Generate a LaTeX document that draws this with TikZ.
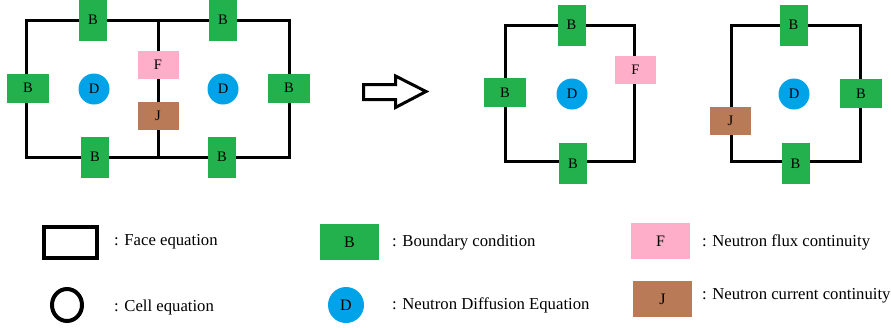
\documentclass[tikz,border=0pt]{standalone}
\usepackage{fontspec}
\usetikzlibrary{shapes.geometric}
\setmainfont{Liberation Serif}
\definecolor{bgreen}{HTML}{22B14C}
\definecolor{fpink}{HTML}{FFAEC9}
\definecolor{jbrown}{HTML}{B97A57}
\definecolor{dblue}{HTML}{00A2E8}
\tikzset{
  face/.style={line width=3pt, line join=miter},
  lbl/.style={inner sep=0pt, font=\fontsize{14.5}{16}\selectfont},
  bv/.style={lbl, fill=bgreen, minimum width=28pt, minimum height=41pt},
  bh/.style={lbl, fill=bgreen, minimum width=42pt, minimum height=29pt},
  fbox/.style={lbl, fill=fpink, minimum width=41pt, minimum height=28pt},
  jbox/.style={lbl, fill=jbrown, minimum width=41pt, minimum height=28pt},
  dcirc/.style={lbl, circle, fill=dblue, minimum size=31pt},
  legtext/.style={anchor=west, inner sep=0pt, font=\fontsize{16.7}{18}\selectfont},
  legbox/.style={inner sep=0pt, minimum width=59pt, minimum height=36pt, font=\fontsize{16}{18}\selectfont},
}
\begin{document}
\begin{tikzpicture}[x=1pt,y=-1pt]
\useasboundingbox (0,0) rectangle (891,327);
% left double cell
\draw[face] (26.5,20) rectangle (289,157);
\draw[face] (158,20) -- (158,157);
\node[bv] (b1) at (93,20) {B};
\node[bv] (b2) at (223,20) {B};
\node[bh] (b3) at (28,88) {B};
\node[bh] (b4) at (289,88) {B};
\node[bv] (b5) at (95,157) {B};
\node[bv] (b6) at (222,157) {B};
\node[fbox] (f1) at (158,65) {F};
\node[jbox] (j1) at (158,116) {J};
\node[dcirc] (d1) at (94,89) {D};
\node[dcirc] (d2) at (223,89) {D};
% arrow
\draw[line width=3pt, line join=miter, fill=white] (363.5,84.5) -- (395.5,84.5) -- (395.5,76) -- (426,91.5) -- (395.5,107.5) -- (395.5,99.5) -- (363.5,99.5) -- cycle;
% middle square
\draw[face] (505.5,25.5) rectangle (634.5,161.5);
\node[bv] (b7) at (571.5,25) {B};
\node[fbox] (f2) at (635.5,70) {F};
\node[bh] (b8) at (505,92.5) {B};
\node[dcirc] (d3) at (572,94) {D};
\node[bv] (b9) at (573,163.5) {B};
% right square
\draw[face] (731.5,25.5) rectangle (860.5,161.5);
\node[bv] (b10) at (793.5,25) {B};
\node[bh] (b11) at (861,93.5) {B};
\node[jbox] (j2) at (730.5,121) {J};
\node[dcirc] (d4) at (794,94) {D};
\node[bv] (b12) at (795.5,163.5) {B};
% legend
\draw[line width=4.5pt] (44.2,227.2) rectangle (96.8,257.8);
\node[legtext] (t1) at (114,242) {: Face equation};
\draw[line width=4pt] (67,305) ellipse [x radius=15pt, y radius=16pt];
\node[legtext] (t2) at (114,307) {: Cell equation};
\node[legbox, fill=bgreen] (lb) at (349.5,242) {B};
\node[legtext] (t3) at (392,243) {: Boundary condition};
\node[legbox, circle, fill=dblue, minimum size=36pt, minimum width=36pt, minimum height=36pt] (ld) at (346,305) {D};
\node[legtext] (t4) at (392,305) {: Neutron Diffusion Equation};
\node[legbox, fill=fpink] (lf) at (660.5,241) {F};
\node[legtext] (t5) at (702,242) {: Neutron flux continuity};
\node[legbox, fill=jbrown] (lj) at (662.5,299) {J};
\node[legtext] (t6) at (702,296) {: Neutron current continuity};
\end{tikzpicture}
\end{document}
